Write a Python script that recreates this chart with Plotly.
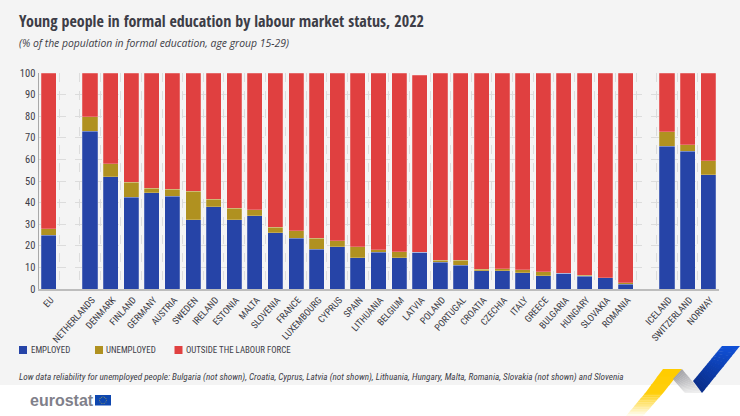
import math
import plotly.graph_objects as go

W, H = 740, 416

countries = [
    "EU", " ", "NETHERLANDS", "DENMARK", "FINLAND", "GERMANY", "AUSTRIA", "SWEDEN",
    "IRELAND", "ESTONIA", "MALTA", "SLOVENIA", "FRANCE", "LUXEMBOURG", "CYPRUS",
    "SPAIN", "LITHUANIA", "BELGIUM", "LATVIA", "POLAND", "PORTUGAL", "CROATIA",
    "CZECHIA", "ITALY", "GREECE", "BULGARIA", "HUNGARY", "SLOVAKIA", "ROMANIA",
    "  ", "ICELAND", "SWITZERLAND", "NORWAY",
]
employed = [
    25.0, None, 73.0, 52.0, 42.5, 44.5, 43.0, 32.0, 38.0, 32.0, 34.0, 26.0, 23.5,
    18.5, 19.5, 14.5, 17.0, 14.5, 17.0, 12.5, 11.0, 8.5, 8.5, 7.5, 6.2, 7.3, 5.8,
    5.3, 2.3, None, 66.0, 63.7, 53.0,
]
unemployed = [
    3.0, None, 6.7, 6.0, 7.0, 2.2, 3.2, 13.2, 3.6, 5.4, 2.6, 2.6, 3.4, 5.0, 2.8,
    5.0, 1.1, 2.8, 0.0, 0.8, 2.4, 0.7, 0.8, 1.4, 1.7, 0.0, 0.5, 0.0, 0.7, None,
    6.8, 3.1, 6.3,
]
outside = [
    72.0, None, 20.3, 42.0, 50.5, 53.3, 53.8, 54.8, 58.4, 62.6, 63.4, 71.4, 73.1,
    76.5, 77.7, 80.5, 81.9, 82.7, 82.0, 86.7, 86.6, 90.8, 90.7, 91.1, 92.1, 92.7,
    93.7, 94.7, 97.0, None, 27.2, 33.2, 40.7,
]
y_ticks = [0, 10, 20, 30, 40, 50, 60, 70, 80, 90, 100]

BLUE = "#2644a7"
GOLD = "#b09120"
RED = "#e04040"
TEXT = "#3d3d47"
NARROW = "Roboto Condensed"


# margins are zero, so paper coordinates are just the pixel position over the size
def px_x(x):
    return x / W


def px_y(y):
    return 1 - y / H


def polygon(points, color):
    path = "M" + "L".join(f"{px_x(x):.5f},{px_y(y):.5f}" for x, y in points) + "Z"
    return dict(type="path", path=path, xref="paper", yref="paper",
                fillcolor=color, line_width=0, layer="above")


def mix(c0, c1, t):
    return "rgb({},{},{})".format(*[round(a + (b - a) * t) for a, b in zip(c0, c1)])


def band(a0, b0, a1, b1, c0, c1, steps=14):
    # ribbon from edge a0-b0 to edge a1-b1 with the colour running along it
    out = []
    for i in range(steps):
        t0, t1 = i / steps, min((i + 1.15) / steps, 1)
        quad = [
            (a0[0] + (a1[0] - a0[0]) * t0, a0[1] + (a1[1] - a0[1]) * t0),
            (b0[0] + (b1[0] - b0[0]) * t0, b0[1] + (b1[1] - b0[1]) * t0),
            (b0[0] + (b1[0] - b0[0]) * t1, b0[1] + (b1[1] - b0[1]) * t1),
            (a0[0] + (a1[0] - a0[0]) * t1, a0[1] + (a1[1] - a0[1]) * t1),
        ]
        out.append(polygon(quad, mix(c0, c1, i / (steps - 1))))
    return out


fig = go.Figure()
for name, values, color in [
    ("EMPLOYED", employed, BLUE),
    ("UNEMPLOYED", unemployed, GOLD),
    ("OUTSIDE THE LABOUR FORCE", outside, RED),
]:
    fig.add_trace(go.Bar(
        x=countries, y=values, name=name,
        marker=dict(color=color, line=dict(color="rgba(255,255,255,0.35)", width=0.6)),
    ))

shapes = [
    dict(type="rect", xref="paper", yref="paper", x0=0, x1=1, y0=px_y(385), y1=1,
         fillcolor="#f4f4f4", line_width=0, layer="below"),
]
# yellow stays solid for the first part, then fades out towards the page bottom
shapes += band((663, 369), (682, 369), (646, 392), (664, 392), (255, 204, 0), (255, 206, 10), steps=3)
shapes += band((646, 392), (664, 392), (626, 416), (643, 416), (255, 206, 10), (255, 252, 235))
shapes += band((682, 369), (673, 379), (702, 393), (685, 393), (165, 165, 170), (238, 238, 238))
shapes += band((740, 346), (722, 346), (702, 393), (693, 381), (16, 80, 214), (10, 46, 140))

# EU flag next to the logo
shapes.append(dict(type="rect", xref="paper", yref="paper", x0=px_x(95), x1=px_x(111),
                   y0=px_y(405.5), y1=px_y(395), fillcolor="#0e47b0", line_width=0))
for i in range(12):
    cx = 103 + 3.4 * math.cos(i * math.pi / 6)
    cy = 400.2 + 3.4 * math.sin(i * math.pi / 6)
    shapes.append(dict(type="circle", xref="paper", yref="paper",
                       x0=px_x(cx - 0.4), x1=px_x(cx + 0.4),
                       y0=px_y(cy + 0.4), y1=px_y(cy - 0.4),
                       fillcolor="#ffd617", line_width=0))


def label(x, y, text, size, font=NARROW, color=TEXT):
    return dict(text=text, x=px_x(x), y=px_y(y), xref="paper", yref="paper",
                xanchor="left", yanchor="middle", showarrow=False, borderpad=0,
                xshift=-1, font=dict(family=font, size=size, color=color))


annotations = [
    label(19, 21, "<b>Young people in formal education by labour market status, 2022</b>", 16,
          font="Open Sans Condensed"),
    label(19, 43, "<i>(% of the population in formal education, age group 15-29)</i>", 10.4,
          font="Open Sans"),
    label(19, 377, "<i>Low data reliability for unemployed people: Bulgaria (not shown), Croatia, "
          "Cyprus, Latvia (not shown), Lithuania, Hungary, Malta, Romania, Slovakia (not shown) "
          "and Slovenia</i>", 9.2),
    label(30, 400.5, "<b>eurostat</b>", 16, font="Liberation Sans", color="#80808a"),
]

# legend keys, placed by hand because the keys are smaller than plotly's own
for x_key, x_text, name, color in [
    (19, 30.5, "EMPLOYED", BLUE),
    (95, 106, "UNEMPLOYED", GOLD),
    (174.5, 186, "OUTSIDE THE LABOUR FORCE", RED),
]:
    shapes.append(dict(type="rect", xref="paper", yref="paper", x0=px_x(x_key), x1=px_x(x_key + 8),
                       y0=px_y(354), y1=px_y(346), fillcolor=color, line_width=0))
    annotations.append(label(x_text, 350, name, 8.9))

fig.update_layout(
    width=W, height=H,
    margin=dict(l=0, r=0, t=0, b=0, autoexpand=False),
    paper_bgcolor="white",
    plot_bgcolor="rgba(0,0,0,0)",
    barmode="stack",
    bargap=0.27,
    font=dict(family=NARROW, size=11, color=TEXT),
    shapes=shapes,
    annotations=annotations,
    showlegend=False,
    xaxis=dict(
        domain=[px_x(38.5), px_x(718.5)],
        automargin=False,
        type="category", categoryorder="array", categoryarray=countries,
        tickson="boundaries", ticks="", tickangle=-48, ticklabelshift=2,
        tickfont=dict(size=9.5, color=TEXT),
        showgrid=True, gridcolor="#dcdcdc", griddash="dash", gridwidth=0.8,
        showline=True, linecolor="#bdbdbd", linewidth=1.5,
    ),
    yaxis=dict(
        domain=[px_y(289), px_y(73)],
        automargin=False,
        range=[0, 100], tickvals=y_ticks, ticks="",
        tickfont=dict(size=10.5, color=TEXT),
        showgrid=True, gridcolor="#dcdcdc", griddash="dash", gridwidth=0.8,
        showline=True, linecolor="#a8a8a8", linewidth=1,
        zeroline=False,
    ),
)

fig.write_html("out.html", config={"displayModeBar": False},
               post_script="document.body.style.margin='0';")
